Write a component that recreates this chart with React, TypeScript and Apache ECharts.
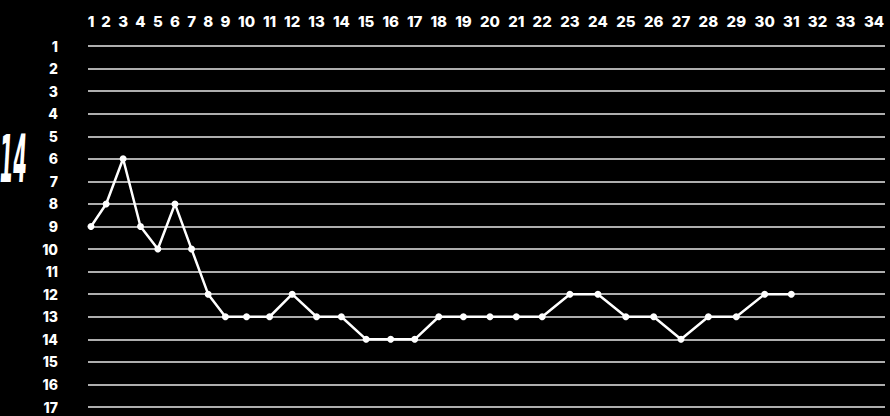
import React, { useEffect, useRef } from "react";
import * as echarts from "echarts";

const dayLabels = ["1","2","3","4","5","6","7","8","9","10","11","12","13","14","15","16","17","18","19","20","21","22","23","24","25","26","27","28","29","30","31","32","33","34"];
const ranks = [9,8,6,9,10,8,10,12,13,13,13,12,13,13,14,14,14,13,13,13,13,13,12,12,13,13,14,13,13,12,12];
const rankMin = 1;
const rankMax = 17;
const sideTitle = "14";

const LABEL_FONT_FAMILY = "Inter";
const LABEL_FONT_SIZE = 14;

function measurePositions(): number[] {
  const c = document.createElement("canvas");
  const ctx = c.getContext("2d")!;
  ctx.font = `800 ${LABEL_FONT_SIZE}px ${LABEL_FONT_FAMILY}`;
  const w = dayLabels.map((l) => ctx.measureText(l).width);
  const gap = LABEL_FONT_SIZE * 0.36;
  const p: number[] = [0];
  for (let i = 1; i < w.length; i++) p.push(p[i - 1] + w[i - 1] / 2 + gap + w[i] / 2);
  return p;
}

export default function App() {
  const ref = useRef<HTMLDivElement>(null);
  useEffect(() => {
    if (!ref.current) return;
    const chart = echarts.init(ref.current, null, { renderer: "svg" });
    const pos = measurePositions();
    const gridLeft = 88;
    const gridRight = 5;
    const gridW = 890 - gridLeft - gridRight;
    const span = pos[pos.length - 1];
    const k = 783 / span;
    const xMin = -3 / k;
    const xMax = xMin + gridW / k;
    const labelFor = (v: number) => {
      let best = 0;
      for (let i = 0; i < pos.length; i++) if (Math.abs(pos[i] - v) < Math.abs(pos[best] - v)) best = i;
      return dayLabels[best];
    };
    chart.setOption({
      animation: false,
      backgroundColor: "#000000",
      grid: { left: gridLeft, right: gridRight, top: 46, bottom: 9, containLabel: false },
      xAxis: {
        type: "value",
        position: "top",
        min: xMin,
        max: xMax,
        axisLine: { show: false },
        axisTick: { show: false },
        splitLine: { show: false },
        axisLabel: {
          customValues: pos,
          formatter: (v: number) => labelFor(v),
          color: "#ffffff",
          fontFamily: LABEL_FONT_FAMILY,
          fontWeight: 800,
          fontSize: 15,
          margin: 17,
          showMinLabel: true,
          showMaxLabel: true,
        },
      },
      yAxis: {
        type: "value",
        inverse: true,
        min: rankMin,
        max: rankMax,
        interval: 1,
        axisLine: { show: false },
        axisTick: { show: false },
        axisLabel: {
          color: "#ffffff",
          fontFamily: LABEL_FONT_FAMILY,
          fontWeight: 800,
          fontSize: LABEL_FONT_SIZE,
          margin: 30,
        },
        splitLine: { show: true, lineStyle: { color: "#e8e8e8", width: 1.5 } },
      },
      graphic: [
        {
          type: "text",
          x: 27,
          y: 159,
          scaleX: 0.33,
          style: {
            text: sideTitle,
            fill: "#ffffff",
            font: 'italic bold 66px "DejaVu Sans Condensed"',
            align: "right",
            verticalAlign: "middle",
          },
        },
      ],
      series: [
        {
          type: "line",
          data: ranks.map((r, i) => [pos[i], r]),
          symbol: "circle",
          symbolSize: 7,
          showSymbol: true,
          lineStyle: { color: "#ffffff", width: 2.5 },
          itemStyle: { color: "#ffffff" },
        },
      ],
    });
    return () => chart.dispose();
  }, []);
  return (
    <div
      ref={ref}
      style={{ position: "fixed", left: 0, top: 0, width: 890, height: 416, background: "#000" }}
    />
  );
}
